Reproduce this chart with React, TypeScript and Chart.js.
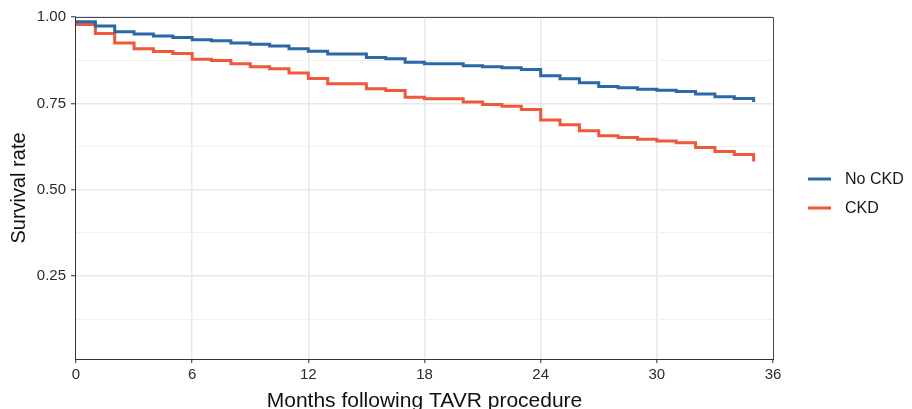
import React, { useEffect, useRef } from "react";
import { Chart, registerables } from "chart.js";

Chart.register(...registerables);

// ---- data ----
const months = [
  0, 1, 2, 3, 4, 5, 6, 7, 8, 9, 10, 11, 12, 13, 14, 15, 16, 17, 18, 19, 20, 21,
  22, 23, 24, 25, 26, 27, 28, 29, 30, 31, 32, 33, 34, 35,
];
const seriesLabels = ["No CKD", "CKD"];
const noCkd = [
  0.986, 0.974, 0.957, 0.951, 0.945, 0.941, 0.934, 0.931, 0.925, 0.921, 0.916,
  0.908, 0.901, 0.893, 0.893, 0.883, 0.879, 0.869, 0.865, 0.865, 0.859, 0.856,
  0.853, 0.848, 0.83, 0.821, 0.81, 0.799, 0.795, 0.791, 0.788, 0.784, 0.777,
  0.769, 0.764, 0.754,
];
const ckd = [
  0.978, 0.952, 0.925, 0.908, 0.9, 0.894, 0.878, 0.874, 0.865, 0.856, 0.85,
  0.838, 0.822, 0.807, 0.807, 0.792, 0.787, 0.768, 0.763, 0.763, 0.754, 0.747,
  0.742, 0.732, 0.702, 0.688, 0.671, 0.656, 0.651, 0.646, 0.641, 0.636, 0.622,
  0.611, 0.602, 0.582,
];
const xTicks = [0, 6, 12, 18, 24, 30, 36];
const yGridValues = [0.125, 0.25, 0.375, 0.5, 0.625, 0.75, 0.875, 1.0];
const yMajorValues = [0.25, 0.5, 0.75, 1.0];
const yTickLabels = ["0.25", "0.50", "0.75", "1.00"];
const xTitle = "Months following TAVR procedure";
const yTitle = "Survival rate";

const COLORS = ["#2A68A6", "#F0583A"];
const FONT = "'Liberation Sans', Arial, sans-serif";

const isMajorY = (v: number) => yMajorValues.some((m) => Math.abs(m - v) < 1e-6);

const panelPlugin = {
  id: "panelAndLegend",
  afterDraw(chart: any) {
    const { ctx, chartArea: a } = chart;
    ctx.save();
    // panel border
    ctx.lineWidth = 1;
    ctx.strokeStyle = "#4a4a4a";
    ctx.beginPath();
    ctx.moveTo(a.left, a.top + 0.5);
    ctx.lineTo(a.right + 0.5, a.top + 0.5);
    ctx.lineTo(a.right + 0.5, a.bottom);
    ctx.stroke();
    ctx.strokeStyle = "#333";
    ctx.beginPath();
    ctx.moveTo(a.left - 0.5, a.top);
    ctx.lineTo(a.left - 0.5, a.bottom + 0.5);
    ctx.lineTo(a.right + 1, a.bottom + 0.5);
    ctx.stroke();
    // legend
    const x0 = a.right + 35;
    const yStart = 179;
    const gap = 29;
    chart.data.datasets.forEach((ds: any, i: number) => {
      const y = yStart + i * gap;
      ctx.strokeStyle = ds.borderColor;
      ctx.lineWidth = 3;
      ctx.beginPath();
      ctx.moveTo(x0, y);
      ctx.lineTo(x0 + 23, y);
      ctx.stroke();
      ctx.fillStyle = "#1a1a1a";
      ctx.font = `16px ${FONT}`;
      ctx.textBaseline = "middle";
      ctx.textAlign = "left";
      ctx.fillText(ds.label, x0 + 37, y + 1);
    });
    ctx.restore();
  },
};

export default function App() {
  const ref = useRef<HTMLCanvasElement | null>(null);

  useEffect(() => {
    document.body.style.margin = "0";
    const canvas = ref.current;
    if (!canvas) return;
    const seriesValues = [noCkd, ckd];
    const chart = new Chart(canvas, {
      type: "line",
      data: {
        datasets: seriesLabels.map((label, i) => ({
          label,
          data: months.map((m, j) => ({ x: m, y: seriesValues[i][j] })),
          borderColor: COLORS[i],
          backgroundColor: COLORS[i],
          borderWidth: 3,
          pointRadius: 0,
          stepped: "before" as const,
          fill: false,
          borderCapStyle: "butt" as const,
          borderJoinStyle: "miter" as const,
        })),
      },
      options: {
        responsive: false,
        animation: false,
        layout: { padding: { top: 17, right: 139, left: 0, bottom: 0 } },
        plugins: {
          legend: { display: false },
          tooltip: { enabled: false },
        },
        scales: {
          x: {
            type: "linear",
            min: 0,
            max: 36,
            afterBuildTicks: (scale: any) => {
              scale.ticks = xTicks.map((v) => ({ value: v }));
            },
            afterFit: (scale: any) => {
              scale.height = 50;
            },
            grid: {
              color: (c: any) =>
                c.tick && c.tick.value > 0 && c.tick.value < 36 ? "#e8e8e8" : "rgba(0,0,0,0)",
              lineWidth: 1.5,
              tickColor: "#333",
              tickLength: 4,
              tickWidth: 1,
            },
            border: { display: false },
            ticks: {
              color: "#2b2b2b",
              font: { family: FONT, size: 15 },
              padding: 3,
              maxRotation: 0,
              autoSkip: false,
              callback: (v: any) => String(v),
            },
            title: {
              display: true,
              text: xTitle,
              color: "#111",
              font: { family: FONT, size: 21 },
              padding: { top: 0, bottom: -5 },
            },
          },
          y: {
            type: "linear",
            min: 0.01,
            max: 1.0,
            afterBuildTicks: (scale: any) => {
              scale.ticks = yGridValues.map((v) => ({ value: v }));
            },
            afterFit: (scale: any) => {
              scale.width = 76;
            },
            grid: {
              color: (c: any) =>
                c.tick && isMajorY(c.tick.value) ? "#e8e8e8" : "#f1f1f1",
              lineWidth: (c: any) => (c.tick && isMajorY(c.tick.value) ? 1.5 : 1),
              tickColor: (c: any) =>
                c.tick && isMajorY(c.tick.value) ? "#333" : "rgba(0,0,0,0)",
              tickLength: 5,
              tickWidth: 1,
            },
            border: { display: false },
            ticks: {
              color: "#2b2b2b",
              font: { family: FONT, size: 15 },
              padding: 5,
              autoSkip: false,
              callback: (v: any) => {
                const idx = yMajorValues.findIndex((m) => Math.abs(m - v) < 1e-6);
                return idx >= 0 ? yTickLabels[idx] : "";
              },
            },
            title: {
              display: true,
              text: yTitle,
              color: "#111",
              font: { family: FONT, size: 20 },
              padding: { top: 7, bottom: 0 },
            },
          },
        },
      },
      plugins: [panelPlugin],
    });
    return () => chart.destroy();
  }, []);

  return (
    <div style={{ width: 912, height: 409, background: "#fff" }}>
      <canvas ref={ref} width={912} height={409} style={{ display: "block" }} />
    </div>
  );
}
